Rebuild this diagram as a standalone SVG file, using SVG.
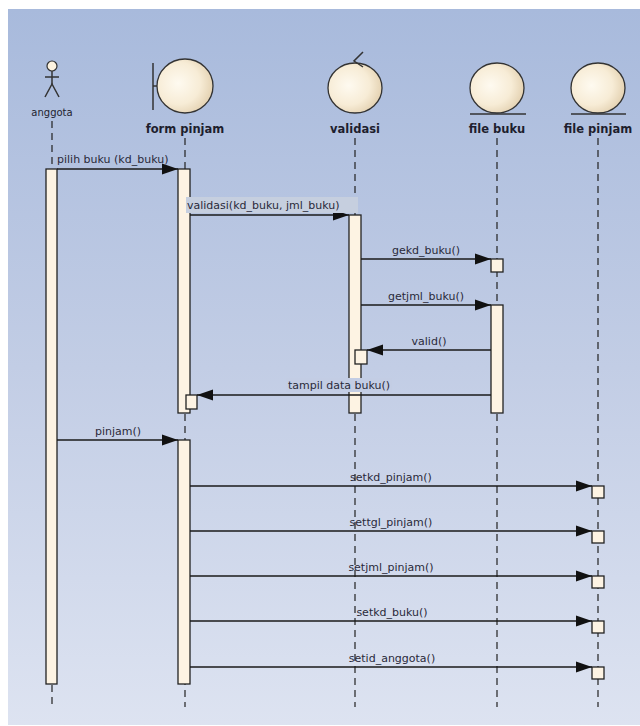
<svg xmlns="http://www.w3.org/2000/svg" width="640" height="726" viewBox="0 0 640 726">
<defs>
<linearGradient id="bg" x1="0" y1="0" x2="0" y2="1">
<stop offset="0" stop-color="#a8badc"/>
<stop offset="0.5" stop-color="#c2cde5"/>
<stop offset="1" stop-color="#dde3f1"/>
</linearGradient>
<radialGradient id="ball" cx="0.38" cy="0.45" r="0.65">
<stop offset="0" stop-color="#fefaf0"/>
<stop offset="0.6" stop-color="#f7ecd6"/>
<stop offset="1" stop-color="#e2cfae"/>
</radialGradient>
<marker id="arr" markerUnits="userSpaceOnUse" markerWidth="17" markerHeight="12" refX="16" refY="6" orient="auto">
<path d="M0,0.5 L16,6 L0,11.5 z" fill="#111"/>
</marker>
<style>
.life{stroke:#222;stroke-width:1.2;stroke-dasharray:7 5;fill:none}
.act{fill:#fdf3e3;stroke:#222;stroke-width:1.3}
.msg{stroke:#1a1a1a;stroke-width:1.3;fill:none;marker-end:url(#arr)}
.ml{font-family:"DejaVu Sans",Verdana,sans-serif;font-size:11px;fill:#2a2a3a}
.hl{font-family:"DejaVu Sans",Verdana,sans-serif;font-size:11.5px;font-weight:bold;fill:#1e1e2e;text-anchor:middle}
.ob{fill:url(#ball);stroke:#333;stroke-width:1.3}
.ln{stroke:#333;stroke-width:1.5;fill:none}
</style>
</defs>
<rect x="8" y="9" width="632" height="716" fill="url(#bg)"/>

<g id="lifelines">
<line class="life" x1="52" y1="121" x2="52" y2="707"/>
<line class="life" x1="185" y1="138" x2="185" y2="707"/>
<line class="life" x1="355" y1="138" x2="355" y2="707"/>
<line class="life" x1="497" y1="138" x2="497" y2="707"/>
<line class="life" x1="598" y1="138" x2="598" y2="707"/>
</g>

<g id="anggota">
<circle cx="52" cy="66" r="5" fill="#fdf3e0" stroke="#333" stroke-width="1.2"/>
<line class="ln" x1="52" y1="71" x2="52" y2="84" stroke-width="1.2"/>
<line class="ln" x1="45" y1="77" x2="59" y2="77" stroke-width="1.2"/>
<polyline class="ln" points="45,97 52,84 59,97" stroke-width="1.2"/>
<text x="52" y="116" font-family="DejaVu Sans,Verdana,sans-serif" font-size="10px" fill="#1e1e2e" text-anchor="middle">anggota</text>
<rect class="act" x="46" y="169" width="11" height="515"/>
</g>

<g id="form_pinjam">
<line class="ln" x1="153" y1="63" x2="153" y2="110"/>
<line class="ln" x1="153" y1="86" x2="157" y2="86"/>
<ellipse class="ob" cx="185" cy="86" rx="28" ry="27"/>
<text class="hl" x="185" y="133">form pinjam</text>
<rect class="act" x="178" y="169" width="12" height="244"/>
<rect class="act" x="186" y="395" width="11" height="14"/>
<rect class="act" x="178" y="440" width="12" height="244"/>
</g>

<g id="validasi">
<ellipse class="ob" cx="355" cy="88" rx="27" ry="25"/>
<polyline class="ln" points="363,52 354,61 363,67"/>
<text class="hl" x="355" y="133">validasi</text>
<rect class="act" x="349" y="215" width="12" height="198"/>
<rect class="act" x="355" y="350" width="12" height="14"/>
</g>

<g id="file_buku">
<ellipse class="ob" cx="497" cy="88" rx="27" ry="25"/>
<line class="ln" x1="470" y1="114" x2="526" y2="114"/>
<text class="hl" x="497" y="133">file buku</text>
<rect class="act" x="491" y="259" width="12" height="13"/>
<rect class="act" x="491" y="305" width="12" height="108"/>
</g>

<g id="file_pinjam">
<ellipse class="ob" cx="598" cy="88" rx="27" ry="25"/>
<line class="ln" x1="571" y1="114" x2="626" y2="114"/>
<text class="hl" x="598" y="133">file pinjam</text>
<rect class="act" x="592" y="486" width="12" height="12"/>
<rect class="act" x="592" y="531" width="12" height="12"/>
<rect class="act" x="592" y="576" width="12" height="12"/>
<rect class="act" x="592" y="621" width="12" height="12"/>
<rect class="act" x="592" y="667" width="12" height="12"/>
</g>

<g id="connectors">
<line class="msg" x1="57" y1="169" x2="178" y2="169"/>
<line class="msg" x1="190" y1="215" x2="349" y2="215"/>
<line class="msg" x1="361" y1="259" x2="491" y2="259"/>
<line class="msg" x1="361" y1="305" x2="491" y2="305"/>
<line class="msg" x1="491" y1="350" x2="367" y2="350"/>
<line class="msg" x1="491" y1="395" x2="197" y2="395"/>
<line class="msg" x1="57" y1="440" x2="178" y2="440"/>
<line class="msg" x1="190" y1="486" x2="592" y2="486"/>
<line class="msg" x1="190" y1="531" x2="592" y2="531"/>
<line class="msg" x1="190" y1="576" x2="592" y2="576"/>
<line class="msg" x1="190" y1="621" x2="592" y2="621"/>
<line class="msg" x1="190" y1="667" x2="592" y2="667"/>
</g>

<g id="labels">
<text class="ml" x="57" y="163">pilih buku (kd_buku)</text>
<rect x="186" y="197" width="172" height="16" fill="#c6cfdf"/>
<text class="ml" x="187" y="209">validasi(kd_buku, jml_buku)</text>
<text class="ml" x="426" y="254" text-anchor="middle">gekd_buku()</text>
<text class="ml" x="426" y="300" text-anchor="middle">getjml_buku()</text>
<text class="ml" x="429" y="345" text-anchor="middle">valid()</text>
<rect x="286" y="378" width="106" height="14" fill="#c3cde4"/>
<text class="ml" x="339" y="389" text-anchor="middle">tampil data buku()</text>
<text class="ml" x="118" y="435" text-anchor="middle">pinjam()</text>
<text class="ml" x="391" y="481" text-anchor="middle">setkd_pinjam()</text>
<text class="ml" x="391" y="526" text-anchor="middle">settgl_pinjam()</text>
<text class="ml" x="391" y="571" text-anchor="middle">setjml_pinjam()</text>
<text class="ml" x="392" y="616" text-anchor="middle">setkd_buku()</text>
<text class="ml" x="392" y="662" text-anchor="middle">setid_anggota()</text>
</g>
</svg>
